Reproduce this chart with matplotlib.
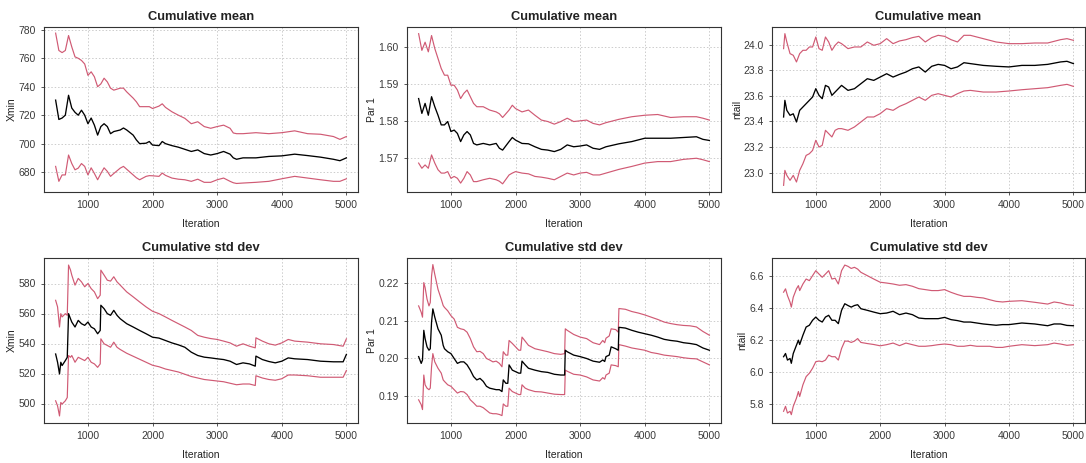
import matplotlib.pyplot as plt
import numpy as np

plt.rcParams['font.family'] = ['Liberation Sans', 'DejaVu Sans']

RED = '#d05a74'

# --- top left: Xmin cumulative mean
it_xmin_mean = [500, 550, 600, 650, 700, 750, 800, 850, 900, 950,
                1000, 1050, 1100, 1150, 1200, 1250, 1300, 1350, 1400,
                1500, 1550, 1600, 1700, 1750, 1800, 1900, 1950, 2000,
                2100, 2150, 2200, 2300, 2400, 2500, 2600, 2700, 2800, 2900, 3000,
                3100, 3200, 3250, 3300, 3400, 3600, 3800, 4000, 4200, 4400, 4600, 4800, 4900, 5000]
xmin_mean = [730.6, 717, 718, 720, 734, 725, 722, 720, 723.5, 720,
             714, 718, 713, 706, 712, 714, 712, 707, 708.5,
             709.6, 711, 709.6, 706, 702.6, 700, 700.3, 701.5, 699,
             698.6, 701.5, 700, 698.6, 697.5, 696, 694.5, 695.6, 693, 692, 693,
             694.5, 692.6, 690, 689, 690, 690, 691, 691.4, 692.6, 691.6, 690.5, 689, 688, 690]
xmin_mean_hi = [777.7, 765.5, 764, 765.5, 776, 768, 761, 760, 758.5, 756,
                748, 750.5, 747, 740, 742, 746, 743.4, 739, 737.6,
                739, 739, 736.4, 732, 729.4, 726, 726, 726, 724.7,
                726.4, 728, 725.5, 722.4, 720, 717.8, 714, 715.4, 712, 710.8, 712,
                713, 710.8, 707.5, 707, 707, 707.7, 707, 707.7, 709, 707, 706.6, 705, 703, 705]
xmin_mean_lo = [684, 673.5, 678, 678, 692, 686, 681.6, 682.8, 686, 684,
                678, 683, 679, 674.6, 679, 683, 680.5, 677, 679,
                682.8, 684, 682, 678, 676, 674.6, 677, 677.5, 677.4,
                677, 679.3, 677.7, 675.8, 675, 674.6, 673.5, 675, 672.8, 672.8, 674.6,
                675.8, 673.5, 672.5, 672, 672.3, 672.8, 673.5, 675.3, 677, 675.8, 674.6, 673.5, 673.5, 675.3]

# --- top middle: Par 1 cumulative mean
it_par_mean = [500, 550, 600, 650, 700, 750, 800, 850, 900, 950,
               1000, 1050, 1100, 1150, 1200, 1250, 1300, 1350, 1400,
               1500, 1600, 1700, 1750, 1800, 1900, 1950, 2000,
               2100, 2200, 2300, 2400, 2500, 2600, 2700, 2800, 2900, 3000,
               3100, 3200, 3300, 3400, 3600, 3800, 4000, 4200, 4400, 4600, 4800, 4900, 5000]
par_mean = [1.5861, 1.5821, 1.5848, 1.5816, 1.5866, 1.5839, 1.5816, 1.579, 1.579, 1.5799,
            1.5772, 1.5776, 1.5767, 1.5745, 1.5763, 1.5772, 1.5763, 1.574, 1.5736,
            1.574, 1.5736, 1.574, 1.5727, 1.5722, 1.5745, 1.5756, 1.5749,
            1.574, 1.5739, 1.5731, 1.5724, 1.5722, 1.5718, 1.5724, 1.5736, 1.5731, 1.5733,
            1.5736, 1.5727, 1.5724, 1.5731, 1.5739, 1.5745, 1.5754, 1.5754, 1.5754, 1.5756, 1.5758, 1.5751, 1.5748]
par_mean_hi = [1.6036, 1.5991, 1.6013, 1.5987, 1.6031, 1.5996, 1.5969, 1.5942, 1.5924, 1.5924,
               1.5897, 1.5897, 1.5884, 1.5861, 1.5875, 1.5884, 1.5866, 1.5848, 1.5839,
               1.5839, 1.583, 1.5825, 1.582, 1.581, 1.583, 1.5843, 1.5834,
               1.5825, 1.583, 1.5816, 1.5803, 1.5799, 1.5792, 1.5799, 1.5808, 1.5799, 1.5801,
               1.5803, 1.5794, 1.579, 1.5796, 1.5805, 1.5812, 1.5816, 1.5818, 1.581, 1.5812, 1.5812, 1.5808, 1.5803]
par_mean_lo = [1.5687, 1.5673, 1.5682, 1.5673, 1.5709, 1.5687, 1.5669, 1.566, 1.566, 1.5664,
               1.5646, 1.5651, 1.5646, 1.5633, 1.5646, 1.5664, 1.5655, 1.5637, 1.5637,
               1.5642, 1.5646, 1.5642, 1.5638, 1.5631, 1.5655, 1.566, 1.5664,
               1.566, 1.5658, 1.5651, 1.5649, 1.5646, 1.5642, 1.5651, 1.566, 1.5655, 1.566,
               1.5662, 1.5655, 1.5655, 1.566, 1.567, 1.5678, 1.5687, 1.5691, 1.5691, 1.5697, 1.57, 1.5696, 1.5691]

# --- top right: ntail cumulative mean
it_ntail_mean = [500, 520, 550, 600, 650, 700, 750, 800, 850, 900, 950,
                 1000, 1050, 1100, 1150, 1200, 1250, 1300, 1350, 1400,
                 1500, 1600, 1700, 1800, 1900, 2000,
                 2100, 2200, 2300, 2400, 2500, 2600, 2700, 2800, 2900, 3000,
                 3100, 3200, 3300, 3400, 3600, 3800, 4000, 4200, 4400, 4600, 4800, 4900, 5000]
ntail_mean = [23.435, 23.565, 23.487, 23.448, 23.46, 23.396, 23.487, 23.513, 23.539, 23.565, 23.591,
              23.656, 23.604, 23.578, 23.682, 23.669, 23.604, 23.63, 23.656, 23.682,
              23.643, 23.656, 23.695, 23.734, 23.721, 23.747,
              23.773, 23.747, 23.768, 23.786, 23.812, 23.826, 23.786, 23.831, 23.846, 23.838,
              23.812, 23.826, 23.859, 23.852, 23.838, 23.831, 23.826, 23.838, 23.838, 23.846, 23.865, 23.87, 23.852]
ntail_mean_hi = [23.969, 24.086, 24.021, 23.93, 23.917, 23.865, 23.93, 23.956, 23.956, 23.982, 23.982,
                 24.06, 23.969, 23.956, 24.06, 24.021, 23.956, 23.995, 24.021, 24.008,
                 23.969, 23.982, 23.982, 24.021, 23.995, 24.008,
                 24.047, 24.008, 24.029, 24.039, 24.055, 24.065, 24.021, 24.055, 24.073, 24.065,
                 24.039, 24.021, 24.073, 24.073, 24.047, 24.021, 24.008, 24.008, 24.013, 24.013, 24.039, 24.047, 24.034]
ntail_mean_lo = [22.901, 23.018, 22.979, 22.94, 22.979, 22.927, 23.018, 23.07, 23.135, 23.148, 23.174,
                 23.253, 23.2, 23.214, 23.331, 23.305, 23.279, 23.331, 23.344, 23.344,
                 23.331, 23.357, 23.396, 23.435, 23.435, 23.461,
                 23.5, 23.487, 23.518, 23.539, 23.565, 23.591, 23.565, 23.604, 23.617, 23.604,
                 23.591, 23.617, 23.638, 23.643, 23.63, 23.63, 23.638, 23.648, 23.656, 23.664, 23.682, 23.69, 23.674]

# --- bottom left: Xmin cumulative std dev
it_xmin_sd = [500, 530, 560, 580, 600, 650, 680,
              700, 730, 750, 800, 850, 900, 950,
              1000, 1050, 1100, 1150, 1190,
              1200, 1250, 1300, 1350, 1400, 1450, 1500,
              1600, 1700, 1800, 1900, 2000,
              2100, 2200, 2300, 2400, 2500, 2600, 2700,
              2800, 2900, 3000, 3100, 3200, 3300, 3400, 3500, 3590,
              3600, 3700, 3800, 3900, 4000, 4100, 4200,
              4400, 4600, 4800, 4950, 5000]
xmin_sd = [533, 527.5, 519.7, 527.5, 525.3, 528.6, 530.8,
           559.9, 556.5, 554.3, 551, 555.4, 553.2, 552.1,
           554.3, 551, 549.8, 546.5, 548.7,
           565.5, 563.2, 559.9, 558.8, 562.1, 558.8, 556.5,
           553.2, 551, 548.7, 546.5, 544.2,
           543.6, 542, 540.4, 539.1, 537.5, 534.2, 532,
           530.9, 530.4, 529.8, 529.3, 528.2, 526, 527.1, 526.4, 524.9,
           531.6, 529.3, 528, 527.1, 528.2, 530.4, 529.8,
           529.3, 528.2, 527.8, 527.8, 532.7]
xmin_sd_hi = [568.8, 564.4, 551, 559.9, 557.7, 559.9, 558.8,
              592.3, 589, 585.6, 578.9, 583.4, 581.1, 577.8,
              580, 576.6, 574.4, 569.9, 572.2,
              588.9, 585.6, 582.2, 581.6, 584.5, 581.1, 578.9,
              574.4, 571.1, 567.7, 564.4, 561.5,
              559.9, 557.7, 555.4, 553.2, 551, 548.7, 545.4,
              544.2, 543.3, 542.7, 541.6, 540.4, 538.2, 539.8, 538.2, 537.1,
              543.8, 541.6, 539.8, 538.9, 540.4, 542.7, 541.6,
              540.9, 539.8, 539.3, 538.2, 543.1]
xmin_sd_lo = [501.8, 498.4, 491.7, 500.7, 499.6, 501.8, 504,
              532, 530.8, 532, 527.5, 530.8, 529.7, 528.6,
              530.8, 527.5, 526.4, 524.1, 526.4,
              543.1, 539.8, 538.7, 537.5, 540.9, 537.5, 536,
              533.5, 531.5, 529.5, 527.5, 525.5,
              524.5, 523, 522, 521, 519.5, 518, 517,
              516, 515.5, 515, 514.5, 513.5, 512.5, 513, 513, 512,
              518.5, 517, 516, 515.5, 516.5, 519, 519,
              518.5, 517.5, 517.5, 517.5, 522]

# --- bottom middle: Par 1 cumulative std dev
it_par_sd = [500, 540, 560, 580, 600, 630, 660, 680,
             700, 720, 750, 800, 850, 880, 900, 950,
             1000, 1050, 1100, 1150, 1200, 1250, 1300, 1350, 1400, 1450, 1500, 1550, 1600, 1650, 1700, 1750,
             1790, 1810, 1850, 1880, 1900, 1950, 2000, 2050, 2080,
             2100, 2150, 2200, 2300, 2400, 2500, 2600, 2700, 2760,
             2770, 2800, 2900, 3000, 3100, 3200, 3300, 3350, 3380,
             3400, 3450, 3480, 3550, 3590,
             3600, 3700, 3800, 3900, 4000, 4100, 4200, 4300, 4400, 4500, 4600, 4700, 4800, 4900, 5000]
par_sd = [0.2004, 0.1986, 0.1995, 0.2074, 0.2052, 0.203, 0.2021, 0.2025,
          0.2096, 0.2131, 0.2109, 0.2078, 0.2061, 0.2034, 0.2025, 0.2017,
          0.2012, 0.1999, 0.1986, 0.199, 0.199, 0.1982, 0.1968, 0.1951, 0.1942, 0.1946, 0.1938, 0.1925, 0.192, 0.1918, 0.1916, 0.1916,
          0.1911, 0.1942, 0.1933, 0.1933, 0.1982, 0.1968, 0.1964, 0.196, 0.196,
          0.1992, 0.1982, 0.1973, 0.1968, 0.1964, 0.1962, 0.1957, 0.1955, 0.1955,
          0.2021, 0.2017, 0.2008, 0.2004, 0.1999, 0.1992, 0.1989, 0.1995, 0.1991,
          0.2004, 0.2008, 0.203, 0.2025, 0.2021,
          0.2082, 0.208, 0.2074, 0.2069, 0.2065, 0.2061, 0.2056, 0.205, 0.2047, 0.2045, 0.2041, 0.2039, 0.2036, 0.2027, 0.2021]
par_sd_hi = [0.2139, 0.2122, 0.2109, 0.2201, 0.2188, 0.2157, 0.2139, 0.2148,
             0.2218, 0.2249, 0.2223, 0.2183, 0.2157, 0.214, 0.2135, 0.2126,
             0.2113, 0.2104, 0.2082, 0.2078, 0.2076, 0.2069, 0.2052, 0.203, 0.2017, 0.2018, 0.2012, 0.1999, 0.1995, 0.199, 0.1992, 0.1986,
             0.1977, 0.2017, 0.2008, 0.2008, 0.2047, 0.2039, 0.203, 0.2021, 0.2021,
             0.2056, 0.2045, 0.2034, 0.2025, 0.2021, 0.2017, 0.2012, 0.201, 0.2012,
             0.2078, 0.2074, 0.2063, 0.2056, 0.2052, 0.2041, 0.2036, 0.2047, 0.2041,
             0.2053, 0.2059, 0.2078, 0.2076, 0.2069,
             0.2132, 0.213, 0.2124, 0.212, 0.2115, 0.2109, 0.2103, 0.2096, 0.2092, 0.2089, 0.2087, 0.2086, 0.2083, 0.2071, 0.2061]
par_sd_lo = [0.1889, 0.1876, 0.1863, 0.1955, 0.1929, 0.192, 0.1916, 0.192,
             0.1977, 0.2012, 0.199, 0.1973, 0.196, 0.1942, 0.1938, 0.1929,
             0.1925, 0.1916, 0.1907, 0.1911, 0.191, 0.1903, 0.1889, 0.1881, 0.1872, 0.1872, 0.1868, 0.1861, 0.1854, 0.1852, 0.1852, 0.185,
             0.1847, 0.1878, 0.1872, 0.1872, 0.192, 0.1911, 0.1907, 0.1903, 0.1903,
             0.1929, 0.192, 0.1916, 0.1911, 0.191, 0.1907, 0.1904, 0.1903, 0.1903,
             0.1968, 0.1965, 0.1957, 0.1955, 0.195, 0.1942, 0.1939, 0.1948, 0.1944,
             0.1955, 0.196, 0.1982, 0.198, 0.1977,
             0.2036, 0.2032, 0.2027, 0.2024, 0.2021, 0.2015, 0.2012, 0.2008, 0.2006, 0.2004, 0.2001, 0.1999, 0.1998, 0.199, 0.1982]

# --- bottom right: ntail cumulative std dev
it_ntail_sd = [500, 530, 560, 600, 620, 650,
               700, 730, 750, 800, 850, 900, 950,
               1000, 1050, 1100, 1150, 1200, 1250, 1300, 1350, 1400, 1450, 1500, 1550, 1600, 1650, 1700,
               1800, 1900, 2000,
               2100, 2200, 2300, 2400, 2500, 2600, 2700, 2800, 2900, 3000,
               3100, 3200, 3300, 3400, 3500, 3600, 3700, 3800, 3900, 4000,
               4200, 4400, 4600, 4700, 4800, 4900, 5000]
ntail_sd = [6.095, 6.115, 6.074, 6.084, 6.054, 6.115,
            6.167, 6.198, 6.171, 6.229, 6.28, 6.291, 6.322,
            6.342, 6.322, 6.311, 6.342, 6.353, 6.322, 6.322, 6.301, 6.384, 6.425, 6.414, 6.404, 6.414, 6.419, 6.394,
            6.384, 6.373, 6.363,
            6.367, 6.378, 6.357, 6.367, 6.357, 6.336, 6.332, 6.332, 6.332, 6.34,
            6.326, 6.32, 6.311, 6.311, 6.305, 6.299, 6.295, 6.291, 6.295, 6.295,
            6.305, 6.299, 6.288, 6.299, 6.299, 6.29, 6.288]
ntail_sd_hi = [6.497, 6.518, 6.476, 6.435, 6.404, 6.466,
               6.518, 6.538, 6.507, 6.548, 6.579, 6.569, 6.6,
               6.631, 6.61, 6.59, 6.61, 6.631, 6.579, 6.584, 6.548, 6.631, 6.666, 6.658, 6.645, 6.652, 6.641, 6.621,
               6.6, 6.579, 6.559,
               6.554, 6.548, 6.54, 6.544, 6.534, 6.519, 6.513, 6.507, 6.507, 6.513,
               6.496, 6.482, 6.471, 6.471, 6.465, 6.461, 6.45, 6.44, 6.436, 6.44,
               6.444, 6.434, 6.423, 6.436, 6.43, 6.419, 6.415]
ntail_sd_lo = [5.755, 5.786, 5.744, 5.755, 5.734, 5.786,
               5.837, 5.878, 5.847, 5.92, 5.971, 5.992, 6.023,
               6.064, 6.068, 6.064, 6.074, 6.105, 6.095, 6.095, 6.074, 6.146, 6.192, 6.192, 6.184, 6.192, 6.208, 6.184,
               6.177, 6.171, 6.163,
               6.17, 6.18, 6.164, 6.18, 6.17, 6.16, 6.16, 6.164, 6.17, 6.174,
               6.17, 6.16, 6.16, 6.166, 6.16, 6.16, 6.16, 6.153, 6.153, 6.16,
               6.17, 6.164, 6.17, 6.18, 6.174, 6.166, 6.17]

panels = [
    ('Cumulative mean', 'Xmin', it_xmin_mean, xmin_mean, xmin_mean_hi, xmin_mean_lo,
     (666, 782), np.arange(680, 781, 20), '%d'),
    ('Cumulative mean', 'Par 1', it_par_mean, par_mean, par_mean_hi, par_mean_lo,
     (1.5609, 1.6054), [1.57, 1.58, 1.59, 1.60], '%.2f'),
    ('Cumulative mean', 'ntail', it_ntail_mean, ntail_mean, ntail_mean_hi, ntail_mean_lo,
     (22.849, 24.138), [23.0, 23.2, 23.4, 23.6, 23.8, 24.0], '%.1f'),
    ('Cumulative std dev', 'Xmin', it_xmin_sd, xmin_sd, xmin_sd_hi, xmin_sd_lo,
     (487, 597), np.arange(500, 581, 20), '%d'),
    ('Cumulative std dev', 'Par 1', it_par_sd, par_sd, par_sd_hi, par_sd_lo,
     (0.18273, 0.22665), [0.19, 0.20, 0.21, 0.22], '%.2f'),
    ('Cumulative std dev', 'ntail', it_ntail_sd, ntail_sd, ntail_sd_hi, ntail_sd_lo,
     (5.682, 6.71), [5.8, 6.0, 6.2, 6.4, 6.6], '%.1f'),
]

fig = plt.figure(figsize=(10.86, 4.63), dpi=100)
W, H = 1086, 463
lefts = [44, 407, 772]
rights = [358, 721, 1085]
tops = [27, 258]
bottoms = [192, 423]

for k, (title, ylab, it, mid, hi, lo, ylim, yticks, fmt) in enumerate(panels):
    r, c = divmod(k, 3)
    ax = fig.add_axes([lefts[c] / W, 1 - bottoms[r] / H,
                       (rights[c] - lefts[c]) / W, (bottoms[r] - tops[r]) / H])
    ax.plot(it, hi, color=RED, lw=0.85)
    ax.plot(it, lo, color=RED, lw=0.85)
    ax.plot(it, mid, color='black', lw=0.95)
    ax.set_xlim(320, 5180)
    ax.set_ylim(*ylim)
    ax.set_xticks([1000, 2000, 3000, 4000, 5000])
    ax.set_yticks(yticks)
    ax.set_yticklabels([fmt % v for v in yticks])
    ax.grid(True, color='#cccccc', linestyle=(0, (1.5, 2)), lw=0.7)
    ax.tick_params(labelsize=7.5, length=2.5, width=0.6, colors='#3a3a3a', pad=3.5)
    for s in ax.spines.values():
        s.set_linewidth(0.8)
        s.set_color('#333333')
    ax.set_title(title, fontsize=9.3, fontweight='bold', color='#222222', pad=5)
    ax.set_xlabel('Iteration', fontsize=7.5, color='#222222', labelpad=6)
    ax.set_ylabel(ylab, fontsize=7.5, color='#222222', labelpad=1)

fig.savefig('out.png', dpi=100)
